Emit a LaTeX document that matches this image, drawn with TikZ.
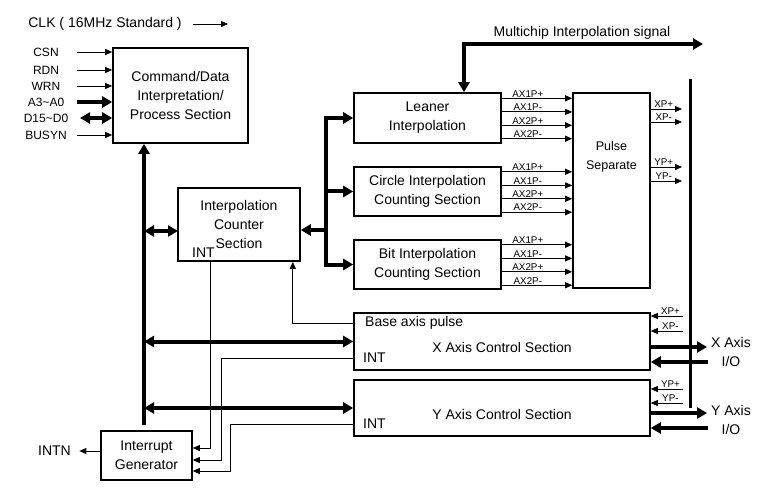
\documentclass[tikz,border=0pt]{standalone}
\usepackage{fontspec}
\setmainfont{Liberation Sans}
\usetikzlibrary{arrows.meta}
\tikzset{
    box/.style={draw, line width=1.6pt, inner sep=0pt},
    in lbl/.style={font=\fontsize{12}{14}\selectfont},
    tiny lbl/.style={font=\fontsize{9.8}{10}\selectfont, inner sep=0.8pt},
    sig/.style={line width=0.8pt, -{Triangle[length=7pt,width=6pt]}},
    bus/.style={line width=4pt, -{Triangle[length=10pt,width=11pt]}},
    dbus/.style={line width=4pt, {Triangle[length=10pt,width=11pt]}-{Triangle[length=10pt,width=11pt]}},
    rail/.style={line width=3pt},
}
\begin{document}
\begin{tikzpicture}[x=1pt, y=-1pt, align=center, font=\fontsize{14}{19}\selectfont]
        \useasboundingbox (0, 0) rectangle (784, 497);
        %blocks
        \node[box, minimum width=135pt, minimum height=95pt] (cmd) at (180.5, 95.5) {Command/Data\\Interpretation/\\Process Section};
        \node[box, minimum width=122pt, minimum height=73pt] (ipc) at (239, 224.5) {Interpolation\\Counter\\Section};
        \node[box, minimum width=147pt, minimum height=50pt] (lin) at (427.5, 118) {Leaner\\Interpolation};
        \node[box, minimum width=147pt, minimum height=49pt] (cir) at (427.5, 191.5) {Circle Interpolation\\Counting Section};
        \node[box, minimum width=147pt, minimum height=49pt] (bit) at (427.5, 264.5) {Bit Interpolation\\Counting Section};
        \node[box, minimum width=77pt, minimum height=195pt] (pulse) at (611.5, 190.5) {};
        \node[font=\fontsize{12.5}{19}\selectfont] (pstxt) at (611.5, 156.5) {Pulse\\Separate};
        \node[box, minimum width=296pt, minimum height=57pt] (xax) at (502, 341.5) {};
        \node (xtxt) at (502, 347) {X Axis Control Section};
        \node[box, minimum width=296pt, minimum height=56pt] (yax) at (502, 408) {};
        \node (ytxt) at (502, 414) {Y Axis Control Section};
        \node[box, minimum width=91pt, minimum height=49pt] (igen) at (146.5, 455.5) {Interrupt\\Generator};
        %labels inside blocks
        \node[anchor=west, inner sep=0pt] (bap) at (365, 323) {Base axis pulse};
        \node[anchor=west, inner sep=0pt] (xint) at (363, 358) {INT};
        \node[anchor=west, inner sep=0pt] (yint) at (363, 424) {INT};
        \node[anchor=west, inner sep=0pt] (iint) at (192, 253) {INT};
        %outer labels
        \node (clk) at (105, 24) {CLK ( 16MHz Standard )};
        \node (mclbl) at (582, 33) {Multichip Interpolation signal};
        \node (intn) at (54.5, 451) {INTN};
        \node (xio) at (731, 352) {X Axis\\I/O};
        \node (yio) at (731, 420) {Y Axis\\I/O};
        %free ends and corners
        \coordinate (busb) at (144, 425);
        \coordinate (ibus) at (326, 230);
        \coordinate (ipcl) at (178, 231);
        \coordinate (mc) at (464, 44);
        \coordinate (mce) at (703, 44);
        \coordinate (vtop) at (690, 79);
        \coordinate (vbot) at (690, 408);
        \coordinate (clka) at (193, 24);
        \coordinate (clkb) at (228, 24);
        \coordinate (xout) at (707, 347);
        \coordinate (xin) at (708, 362);
        \coordinate (yout) at (707, 413);
        \coordinate (yin) at (708, 428);
        \coordinate (ik) at (210, 448);
        \coordinate (xk) at (221, 460);
        \coordinate (yk) at (230, 471);
        %host inputs
        \foreach \nm/\txt/\y in {csn/CSN/52, rdn/RDN/70, wrn/WRN/86, busyn/BUSYN/135}
        {
            \node[in lbl] (\nm) at (46, \y) {\txt};
            \coordinate (\nm-in) at (77, \y);
            \draw[sig] (\nm-in) -- (\nm-in -| cmd.west);
        }
        \node[in lbl] (addr) at (46, 102) {A3\textasciitilde A0};
        \coordinate (addr-in) at (77, 102);
        \draw[bus] (addr-in) -- (addr-in -| cmd.west);
        \node[in lbl] (data) at (46, 118) {D15\textasciitilde D0};
        \coordinate (data-in) at (80, 118);
        \draw[dbus] (data-in) -- (data-in -| cmd.west);
        \draw[sig] (clka) -- (clkb);
        %internal bus
        \draw[bus] (busb) -- (busb |- cmd.south);
        \draw[dbus] (ipcl -| busb) -- (ipcl);
        \draw[dbus] (xax.west -| busb) -- (xax.west);
        \draw[dbus] (yax.west -| busb) -- (yax.west);
        %interpolation bus
        \draw[bus] (ibus) -- (ibus -| ipc.east);
        \draw[bus] (ibus) |- (lin.west);
        \draw[bus] (ibus) |- (cir.west);
        \draw[bus] (ibus) |- (bit.west);
        \draw[dbus] (mc |- lin.north) -- (mc) -- (mce);
        %interpolation outputs
        \foreach \blk in {lin, cir, bit}
            \foreach \sg/\off [count=\n] in {AX1P+/19.7pt, AX1P-/6.1pt, AX2P+/-7.3pt, AX2P-/-20.7pt}
            {
                \coordinate (\blk-o\n) at ([yshift=\off]\blk.east);
                \draw[sig] (\blk-o\n) -- (\blk-o\n -| pulse.west) node[tiny lbl, above, pos=0.37] (\blk-l\n) {\sg};
            }
        %pulse outputs
        \foreach \sg/\off [count=\n] in {XP+/81.5pt, XP-/68.5pt, YP+/23.5pt, YP-/9.5pt}
        {
            \coordinate (ps-o\n) at ([yshift=\off]pulse.east);
            \draw[sig, shorten >=8pt] (ps-o\n) -- (ps-o\n -| vtop) node[tiny lbl, above, pos=0.33] (ps-l\n) {\sg};
        }
        \draw[rail] (vtop) -- (vbot);
        %rail to axis sections
        \foreach \sg/\off [count=\n] in {XP+/25.5pt, XP-/10.5pt}
        {
            \coordinate (xr\n) at ([yshift=\off]xax.east);
            \draw[sig, shorten <=7pt] (xr\n -| vtop) -- (xr\n) node[tiny lbl, above, midway] (xr-l\n) {\sg};
        }
        \foreach \sg/\off [count=\n] in {YP+/19pt, YP-/5pt}
        {
            \coordinate (yr\n) at ([yshift=\off]yax.east);
            \draw[sig, shorten <=7pt] (yr\n -| vtop) -- (yr\n) node[tiny lbl, above, midway] (yr-l\n) {\sg};
        }
        %axis i/o
        \draw[bus] (xax.east |- xout) -- (xout);
        \draw[bus] (xin) -- (xin -| xax.east);
        \draw[bus] (yax.east |- yout) -- (yout);
        \draw[bus] (yin) -- (yin -| yax.east);
        %interrupt lines
        \draw[sig] (ipc.south -| ik) -- (ik) -- (ik -| igen.east);
        \draw[sig] (xax.west |- xint) -| (xk) -- (xk -| igen.east);
        \draw[sig] (yax.west |- yint) -| (yk) -- (yk -| igen.east);
        \draw[sig, shorten >=5pt] (igen.west |- intn) -- (intn.east);
        %base axis pulse
        \draw[sig] (xax.west |- bap) -| ([xshift=-8pt]ipc.south east);
    \end{tikzpicture}
\end{document}
